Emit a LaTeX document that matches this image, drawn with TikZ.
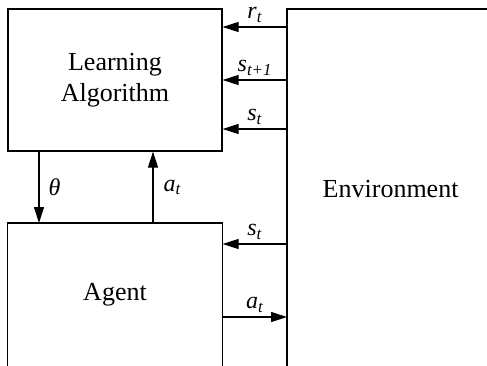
\documentclass[tikz,border=0pt]{standalone}
\usepackage{fontspec}
\setmainfont{Liberation Serif}
\usetikzlibrary{arrows.meta}
\newcommand\sym[2]{\textit{#1}\textsubscript{\textit{#2}}}
\begin{document}
\begin{tikzpicture}[x=1pt, y=-1pt, line width=1.2pt,
  blocktext/.style={font=\fontsize{26}{31}\selectfont, align=center, inner sep=0pt},
  flow/.style={-{Triangle[length=16pt,width=10pt]}},
  sig/.style={font=\fontsize{24}{29}\selectfont, inner sep=0pt}]
\useasboundingbox (0,0) rectangle (487,365);

% learning algorithm block
\node[draw, blocktext, minimum width=214pt, minimum height=142pt] (learn) at (115,80) {Learning\\Algorithm};
% agent block, open at the bottom
\node[blocktext, minimum width=214pt, minimum height=142pt, anchor=north] (agent) at (115,223) {Agent};
\draw (agent.south west) -- (agent.north west) -- (agent.north east) -- (agent.south east);
% environment block, open to the right and bottom
\node[blocktext, minimum width=206pt, minimum height=358pt, anchor=north west] (env) at (287,9) {Environment};
\draw (env.south west) -- (env.north west) -- (env.north east);

% signals from the environment to the learner
\draw[flow] (env.west |- 0,27) -- (learn.east |- 0,27) node[sig, midway, above=4pt] {\sym{r}{t}};
\draw[flow] (env.west |- 0,80) -- (learn.east |- 0,80) node[sig, midway, above=4pt] {\sym{s}{t+1}};
\draw[flow] (env.west |- 0,129) -- (learn.east |- 0,129) node[sig, midway, above=4pt] {\sym{s}{t}};

% learner <-> agent
\draw[flow] (learn.south -| 39,0) -- (agent.north -| 39,0) node[sig, midway, right=9pt] {\textit{θ}};
\draw[flow] (agent.north -| 153,0) -- (learn.south -| 153,0) node[sig, midway, right=10pt] {\sym{a}{t}};

% agent <-> environment
\draw[flow] (env.west |- 0,244) -- (agent.east |- 0,244) node[sig, midway, above=4pt] {\sym{s}{t}};
\draw[flow] (agent.east |- 0,317) -- (env.west |- 0,317) node[sig, midway, above=4pt] {\sym{a}{t}};
\end{tikzpicture}
\end{document}
